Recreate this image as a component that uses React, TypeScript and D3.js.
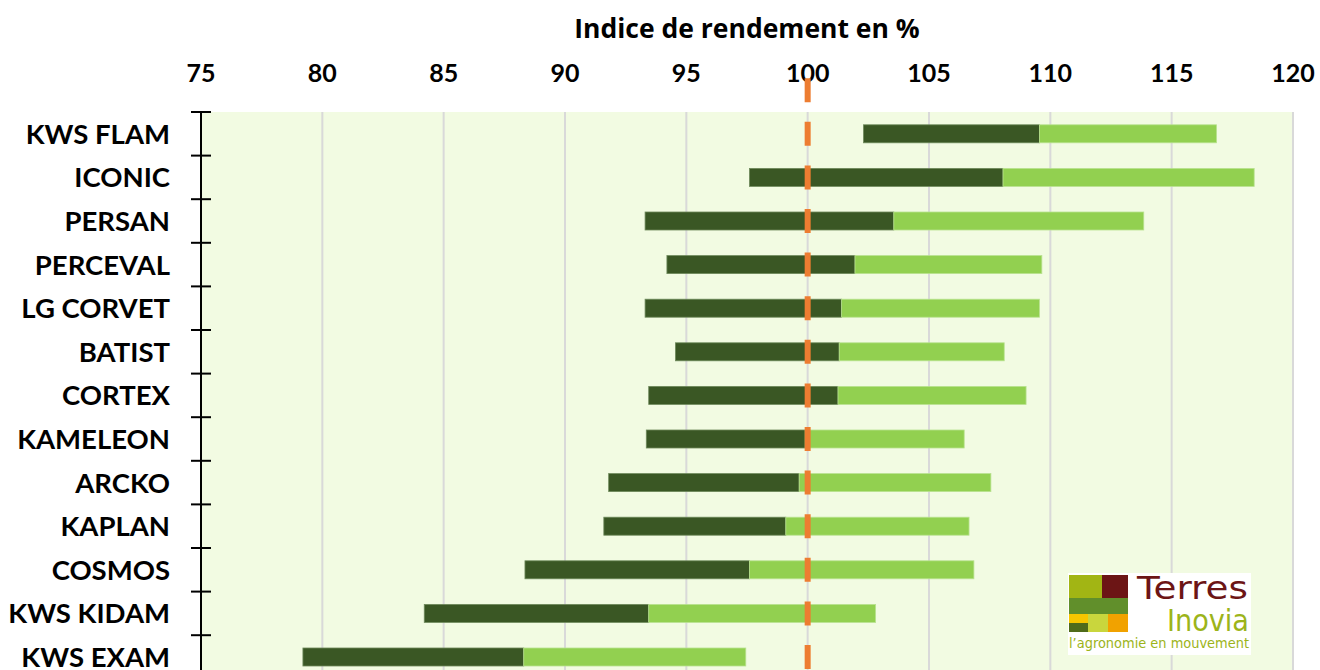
import React from "react";
import * as d3 from "d3";

const varieties = [
  "KWS FLAM", "ICONIC", "PERSAN", "PERCEVAL", "LG CORVET", "BATIST", "CORTEX",
  "KAMELEON", "ARCKO", "KAPLAN", "COSMOS", "KWS KIDAM", "KWS EXAM",
];
const minValues = [102.3, 97.6, 93.3, 94.2, 93.3, 94.55, 93.45, 93.35, 91.8, 91.6, 88.35, 84.2, 79.2];
const meanValues = [109.55, 108.05, 103.55, 101.95, 101.4, 101.3, 101.25, 99.9, 99.65, 99.1, 97.6, 93.45, 88.3];
const maxValues = [116.85, 118.4, 113.85, 109.65, 109.55, 108.1, 109.0, 106.45, 107.55, 106.65, 106.85, 102.8, 97.45];
const xTicks = [75, 80, 85, 90, 95, 100, 105, 110, 115, 120];
const reference = 100;

const W = 1320;
const H = 670;
const left = 201;
const right = 1293;
const top = 112;
const step = 43.6;
const FONT = "Lato, 'Open Sans', sans-serif";

const DARK = "#3a5724";
const LIGHT = "#92d050";
const BG = "#f2fbe2";
const GRID = "#d9d9d9";
const ORANGE = "#ed7d31";

const Logo = ({ x, y }: { x: number; y: number }) => (
  <g transform={`translate(${x},${y})`}>
    <rect x={0} y={0} width={183} height={82} fill="#fff" />
    <rect x={1} y={2} width={33} height={23} fill="#a2b514" />
    <rect x={34} y={2} width={26} height={23} fill="#6c1515" />
    <rect x={1} y={25} width={59} height={16} fill="#618f2b" />
    <rect x={1} y={41} width={19} height={9} fill="#f6c600" />
    <rect x={1} y={50} width={19} height={9} fill="#4f6b1b" />
    <rect x={20} y={41} width={20} height={18} fill="#c9d63d" />
    <rect x={40} y={41} width={20} height={18} fill="#f1a200" />
    <text x={69} y={26} fontFamily="'DejaVu Sans', sans-serif" fontSize={32} fill="#6c1515"
      textLength={111} lengthAdjust="spacingAndGlyphs">Terres</text>
    <text x={99} y={58} fontFamily="'DejaVu Sans', sans-serif" fontSize={31} fill="#9cb41a"
      textLength={82} lengthAdjust="spacingAndGlyphs">Inovia</text>
    <text x={1} y={75} fontFamily="'DejaVu Sans', sans-serif" fontSize={14} fill="#9cb41a"
      textLength={180} lengthAdjust="spacingAndGlyphs">l’agronomie en mouvement</text>
  </g>
);

export default function App() {
  const x = d3.scaleLinear().domain([75, 120]).range([left, right]);
  const y = d3
    .scaleBand<string>()
    .domain(varieties)
    .range([top, top + step * varieties.length])
    .paddingInner(0.587)
    .paddingOuter(0.2935);
  const bottom = top + step * varieties.length;
  const bw = y.bandwidth();
  const firstCenter = (y(varieties[0]) as number) + bw / 2;
  const dashStart = firstCenter - step - 12;

  return (
    <svg width={W} height={H} style={{ position: "absolute", left: 0, top: 0 }}>
      <rect x={0} y={0} width={W} height={H} fill="#fff" />
      <rect x={left} y={top} width={right - left} height={bottom - top} fill={BG} />
      {xTicks.slice(1).map((t) => (
        <line key={t} x1={x(t)} x2={x(t)} y1={top} y2={bottom} stroke={GRID} strokeWidth={2} />
      ))}
      <text x={747} y={38} textAnchor="middle" fontFamily="'Open Sans', sans-serif" fontWeight={700} fontSize={26.5} fill="#000">
        Indice de rendement en %
      </text>
      {xTicks.map((t) => (
        <text key={t} x={x(t)} y={82} textAnchor="middle" fontFamily={FONT} fontWeight={700} fontSize={25} fill="#000">
          {t}
        </text>
      ))}
      {varieties.map((v, i) => {
        const yy = y(v) as number;
        return (
          <g key={v}>
            <rect
              x={x(minValues[i])}
              y={yy}
              width={x(meanValues[i]) - x(minValues[i])}
              height={bw}
              fill={DARK}
              stroke="#6f8a5c"
              strokeWidth={0.8}
            />
            <rect
              x={x(meanValues[i])}
              y={yy}
              width={x(maxValues[i]) - x(meanValues[i])}
              height={bw}
              fill={LIGHT}
              stroke="#b9e290"
              strokeWidth={0.8}
            />
            <text
              x={170}
              y={yy + bw / 2 + 10}
              textAnchor="end"
              fontFamily={FONT}
              fontWeight={700}
              fontSize={27.5}
              fill="#000"
            >
              {v}
            </text>
          </g>
        );
      })}
      <line
        x1={x(reference)}
        x2={x(reference)}
        y1={dashStart}
        y2={H + 20}
        stroke={ORANGE}
        strokeWidth={6}
        strokeDasharray={`24 ${step - 24}`}
      />
      <line x1={left} x2={left} y1={top} y2={bottom} stroke="#000" strokeWidth={2} />
      {d3.range(varieties.length + 1).map((k) => (
        <line key={k} x1={left - 10} x2={left + 10} y1={top + k * step} y2={top + k * step} stroke="#000" strokeWidth={2} />
      ))}
      <Logo x={1068} y={573} />
    </svg>
  );
}
